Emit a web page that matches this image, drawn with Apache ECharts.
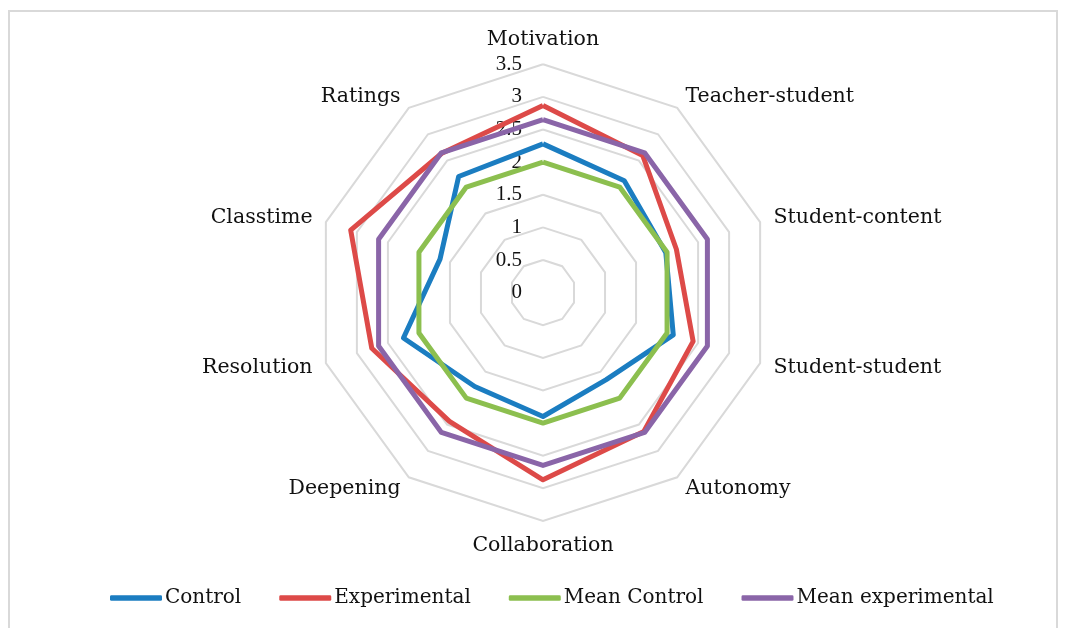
<!DOCTYPE html>
<html>
	<head>
		<meta charset="utf-8">
		<title></title>
		<style>
			body{margin:0;background:#fff;}
			#main{
				width: 1065px;
				height: 628px;
			}
		</style>
	</head>
	<body>
		<div id="main"></div>
		<script src="https://cdn.jsdelivr.net/npm/echarts@6/dist/echarts.min.js"></script>
		<script>
			// categories, clockwise from the top
			var categories=['Motivation','Teacher-student','Student-content','Student-student','Autonomy','Collaboration','Deepening','Resolution','Classtime','Ratings']
			var control=[2.28,2.12,1.98,2.1,1.65,1.9,1.78,2.25,1.66,2.2]
			var experimental=[2.87,2.6,2.15,2.42,2.63,2.87,2.44,2.76,3.1,2.64]
			var meanControl=[2,2,2,2,2,2,2,2,2,2]
			var meanExperimental=[2.65,2.65,2.65,2.65,2.65,2.65,2.65,2.65,2.65,2.65]
			var ticks=['0','0.5','1','1.5','2','2.5','3','3.5']
			var seriesNames=['Control','Experimental','Mean Control','Mean experimental']
			var colors=['#1b7dc1','#dd4a48','#8cbf4f','#8a65a8']

			// echarts radar goes counter-clockwise, so keep the first one and flip the rest
			function cw(arr){
				return [arr[0]].concat(arr.slice(1).reverse())
			}
			var maxV=Number(ticks[ticks.length-1])
			var indicator=cw(categories).map(n=>({name:n,min:0,max:maxV}))
			var values=[control,experimental,meanControl,meanExperimental]

			var cx=543, cy=292.6, R=228.3
			var font='DejaVu Serif'

			var mychart=echarts.init(document.getElementById("main"))
			var option={
				animation:false,
				graphic:[{
					type:'rect',
					shape:{x:9,y:11,width:1048,height:640},
					style:{fill:'none',stroke:'#d9d9d9',lineWidth:2},
					silent:true
				}],
				legend:{
					data:seriesNames,
					left:105,
					top:583,
					itemWidth:52,
					itemHeight:5.5,
					itemGap:38,
					icon:'roundRect',
					textStyle:{fontFamily:font,fontSize:20,color:'#111',padding:[0,0,0,-2]}
				},
				radar:{
					center:[cx,cy],
					radius:R,
					startAngle:90,
					shape:'polygon',
					splitNumber:ticks.length-1,
					indicator:indicator,
					axisName:{color:'#111',fontFamily:font,fontSize:20.5},
					nameGap:14,
					axisLine:{show:false},
					axisTick:{show:false},
					axisLabel:{show:false},
					splitArea:{show:false},
					splitLine:{lineStyle:{color:'#d9d9d9',width:2}}
				},
				// hidden axis just for the 0..3.5 labels along the top spoke
				grid:{left:cx,top:cy-R,height:R,width:1,containLabel:false},
				xAxis:{type:'value',show:false},
				yAxis:{
					type:'value',min:0,max:maxV,interval:0.5,
					axisLine:{show:false},axisTick:{show:false},splitLine:{show:false},
					axisLabel:{margin:21,color:'#111',fontFamily:'Liberation Serif',fontSize:21,padding:[5,0,0,0],
						formatter:v=>ticks[Math.round(v*2)]}
				},
				series:[{
					type:'radar',
					symbol:'none',
					data:values.map((v,i)=>({
						name:seriesNames[i],
						value:cw(v),
						lineStyle:{color:colors[i],width:5},
						itemStyle:{color:colors[i]}
					}))
				}]
			};
			mychart.setOption(option);
		</script>
	</body>
</html>
